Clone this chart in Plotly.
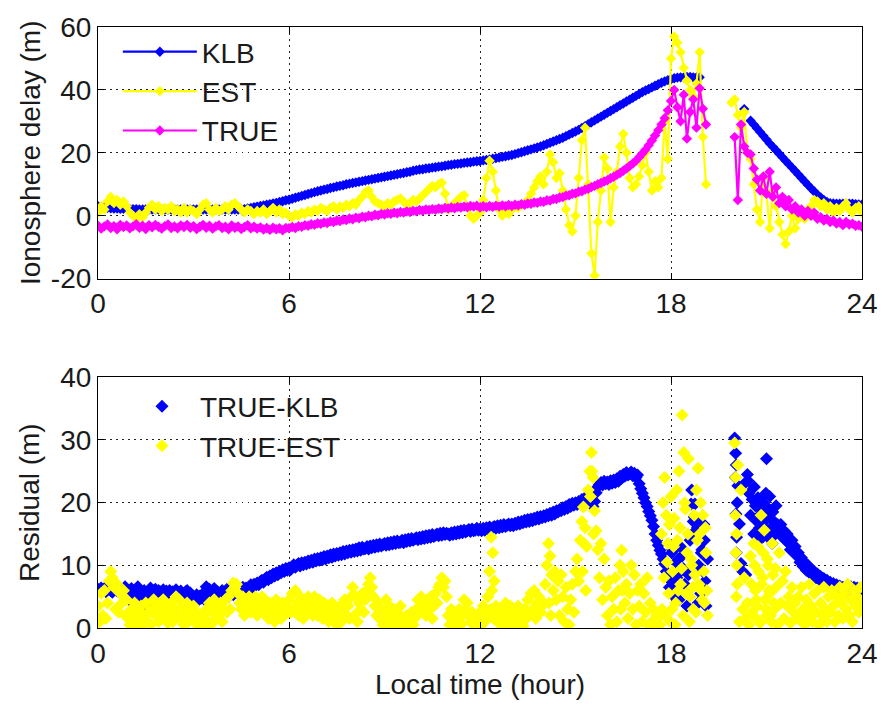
import numpy as np
import plotly.graph_objects as go

# ---------------------------------------------------------------- time axes
HOURS_TOP = np.round(np.arange(241) * 0.1, 2)    # 0.1 h sampling (0..24 h)
HOURS_RES = np.round(np.arange(481) * 0.05, 3)   # 0.05 h sampling (0..24 h)
N = None

# ---------------------------------------------------------------- ionosphere delay (m)
KLB = [
    3.0, 2.8, 2.6, 2.5, 2.4, 2.3, 2.3, 2.2, 2.2, 2.2,
    2.1, 2.1, 2.1, 2.0, 2.0, 2.0, 2.0, 2.0, 2.0, 2.0,
    2.0, 2.0, 2.0, 2.0, 2.0, 2.0, 2.0, 2.0, 2.0, 2.0,
    2.0, 2.0, 2.0, 2.0, 2.0, 2.0, 2.0, 2.0, 2.0, 2.0,
    2.0, 2.0, 2.0, 2.0, 2.0, 2.0, 2.1, 2.3, 2.5, 2.7,
    2.9, 3.1, 3.3, 3.5, 3.7, 3.9, 4.1, 4.4, 4.6, 4.9,
    5.1, 5.4, 5.7, 6.0, 6.3, 6.6, 6.9, 7.2, 7.5, 7.8,
    8.0, 8.3, 8.5, 8.8, 9.0, 9.3, 9.5, 9.7, 10.0, 10.2,
    10.4, 10.6, 10.8, 11.0, 11.2, 11.4, 11.6, 11.8, 12.0, 12.2,
    12.4, 12.6, 12.8, 13.0, 13.2, 13.4, 13.6, 13.8, 14.0, 14.3,
    14.5, 14.7, 14.8, 15.0, 15.1, 15.3, 15.4, 15.6, 15.7, 15.9,
    16.1, 16.2, 16.4, 16.5, 16.6, 16.8, 16.9, 17.0, 17.2, 17.3,
    17.4, 17.6, 17.7, 17.9, 18.1, 18.3, 18.5, 18.7, 18.9, 19.1,
    19.3, 19.6, 19.9, 20.2, 20.5, 20.8, 21.1, 21.4, 21.7, 22.0,
    22.4, 22.8, 23.2, 23.6, 24.0, 24.4, 24.8, 25.3, 25.8, 26.3,
    26.8, 27.3, 27.9, 28.5, 29.1, 29.7, 30.3, 30.9, 31.5, 32.1,
    32.7, 33.3, 33.9, 34.5, 35.1, 35.7, 36.3, 36.9, 37.5, 38.1,
    38.7, 39.3, 39.8, 40.3, 40.8, 41.3, 41.8, 42.3, 42.7, 43.1,
    43.4, 43.7, 43.9, 44.0, 44.0, 44.1, 44.1, 44.0, 44.0, 44.0,
    N, N, N, N, N, N, N, N, N, N,
    N, N, N, 33.9, N, 30.2, 29.0, 27.8, 26.6, 25.4,
    24.2, 23.0, 21.9, 20.8, 19.7, 18.6, 17.5, 16.4, 15.3, 14.2,
    13.1, 12.0, 10.9, 9.8, 8.7, 7.7, 6.7, 5.8, 5.0, 4.4,
    4.0, 3.9, 3.8, 3.8, 3.8, 3.8, 3.8, 3.8, 3.7, 3.6,
    3.5,
]

EST = [
    1.0, 3.0, 2.0, 4.5, 6.0, 4.0, 5.0, 3.5, 4.5, 3.0,
    1.0, 0.0, -1.0, 0.5, -0.5, 1.0, 2.5, 3.5, 2.0, 3.0,
    1.5, 2.5, 2.0, 3.0, 1.5, 2.0, 1.0, 2.5, 1.0, 2.0,
    1.5, 0.5, 2.0, 3.5, 4.0, 2.0, 1.0, 2.5, 1.5, 2.0,
    3.0, 2.0, 3.5, 4.0, 3.0, 2.0, 1.0, 2.0, 1.5, 0.5,
    1.5, 1.0, 2.0, 0.5, 1.5, 2.5, 1.0, 2.0, 0.5, 1.0,
    0.0, -0.5, 0.5, 0.0, 1.0, 0.5, 1.5, 1.0, 2.0, 1.5,
    2.5, 2.0, 1.5, 2.5, 3.0, 2.0, 3.0, 2.5, 3.5, 3.0,
    4.0, 3.5, 5.0, 6.0, 7.5, 8.0, 6.0, 4.5, 4.0, 3.5,
    3.0, 4.0, 3.5, 4.5, 5.0, 5.5, 4.5, 3.5, 4.0, 5.0,
    4.5, 5.5, 6.5, 7.5, 8.5, 9.5, 9.0, 10.0, 10.5, 7.0,
    2.0, 3.0, 4.0, 5.0, 6.0, 6.5, 3.0, 0.0, -1.0, 0.0,
    1.0, 5.0, 12.0, 17.5, 14.0, 8.0, 2.0, 0.0, 1.0, 0.5,
    2.0, 3.0, 2.5, 3.5, 4.0, 5.0, 7.0, 9.0, 11.0, 12.5,
    10.0, 14.0, 19.5, 17.0, 12.0, 13.5, 8.0, 2.0, -3.0, -5.0,
    0.0, 12.0, 24.0, 28.0, 10.0, -12.0, -19.0, -2.0, 8.0, 18.5,
    15.0, -2.0, 9.0, 14.0, 22.0, 26.0, 20.0, 12.0, 9.0, 10.0,
    12.5, 16.0, 20.0, 14.0, 8.0, 11.0, 9.0, 12.0, 30.0, 18.0,
    50.0, 57.0, 55.0, 52.0, 47.0, 43.0, 40.0, 38.0, 42.0, 52.0,
    25.0, 10.0, N, N, N, N, N, N, N, 36.0,
    37.0, 32.0, 28.0, 33.0, 20.0, 18.0, 10.0, 2.0, -2.0, 12.0,
    7.0, -4.0, 8.0, 3.0, -2.0, -6.0, -9.0, -5.0, 0.0, -4.0,
    -1.0, 1.0, -1.0, 2.0, 3.0, 5.0, 4.5, 3.0, 4.0, 2.0,
    3.0, 1.0, 2.5, 1.5, 3.0, 4.0, 2.0, 1.0, 2.5, 3.0,
    1.0,
]

TRUE = [
    -3.2, -4.1, -3.4, -2.8, -3.9, -3.3, -4.3, -2.9, -3.6, -3.1,
    -4.0, -3.4, -2.7, -3.8, -3.2, -4.2, -3.0, -3.7, -2.9, -3.5,
    -4.1, -3.3, -2.8, -3.9, -3.4, -4.0, -3.1, -3.6, -2.9, -3.8,
    -3.3, -4.2, -3.5, -2.9, -3.8, -3.2, -4.1, -3.4, -3.0, -3.9,
    -3.5, -4.3, -3.1, -3.8, -3.4, -4.2, -3.6, -3.0, -4.0, -3.5,
    -4.1, -3.7, -4.4, -3.9, -4.5, -3.8, -4.3, -4.0, -4.6, -3.9,
    -4.0, -3.6, -3.9, -3.3, -3.5, -3.0, -3.2, -2.7, -2.9, -2.4,
    -2.6, -2.1, -2.3, -1.8, -2.0, -1.5, -1.7, -1.2, -1.4, -0.9,
    -1.1, -0.6, -0.8, -0.3, -0.5, 0.0, -0.2, 0.3, 0.1, 0.6,
    0.4, 0.8, 0.6, 1.0, 0.8, 1.2, 1.0, 1.4, 1.2, 1.6,
    1.4, 1.8, 1.6, 2.0, 1.8, 2.1, 1.9, 2.3, 2.1, 2.5,
    2.3, 2.6, 2.4, 2.8, 2.6, 2.9, 2.7, 3.1, 2.9, 3.2,
    2.6, 3.0, 2.7, 3.1, 2.8, 3.2, 2.9, 3.3, 3.0, 3.4,
    3.1, 3.5, 3.3, 3.7, 3.5, 3.9, 3.8, 4.2, 4.1, 4.5,
    4.4, 4.9, 4.8, 5.3, 5.3, 5.8, 5.9, 6.4, 6.5, 7.0,
    7.1, 7.6, 7.8, 8.3, 8.6, 9.1, 9.5, 10.0, 10.4, 10.9,
    11.3, 11.9, 12.4, 13.0, 13.6, 14.3, 15.0, 15.8, 16.6, 17.5,
    18.6, 19.8, 21.0, 22.4, 23.9, 25.5, 27.2, 29.0, 31.0, 33.5,
    36.5, 40.0, 34.5, 30.0, 38.5, 24.5, 33.0, 37.0, 28.0, 40.5,
    34.0, 29.0, N, N, N, N, N, N, N, N,
    25.0, 5.0, 29.0, 22.0, 20.0, 19.5, 15.0, 11.5, 8.0, 12.5,
    7.0, 14.0, 6.0, 9.0, 4.0, 6.0, 3.0, 5.0, 2.0, 3.0,
    1.0, 2.0, 0.0, 1.5, 0.0, 1.0, -1.0, -0.5, -1.5, -1.0,
    -2.0, -1.5, -2.5, -2.0, -3.0, -2.0, -2.8, -2.5, -3.2, -3.0,
    -3.5,
]

# ---------------------------------------------------------------- residuals (m)
RES_KLB = [
    6.2, 5.9, 6.4, 6.0, 6.3, 5.8, 6.1, 6.5, 6.0, 5.7, 6.2, 6.4, 5.9, 6.1, 6.3, 5.8, 6.0, 6.6, 6.2, 5.4,
    4.8, 6.3, 3.9, 5.5, 4.2, 6.6, 3.6, 5.1, 4.4, 6.0, 3.8, 5.7, 4.6, 6.4, 5.0, 5.9, 6.2, 5.6, 6.0, 5.8,
    5.6, 6.1, 5.3, 5.9, 5.5, 6.0, 5.2, 5.8, 5.4, 6.1, 5.7, 5.1, 5.9, 5.5, 5.3, 5.8, 6.0, 5.4, 5.6, 5.2,
    5.0, 4.6, 5.3, 4.4, 5.1, 4.8, 5.5, 4.5, 6.6, 5.2, 6.2, 4.8, 5.6, 6.3, 5.0, 5.8, 4.7, 5.4, 6.0, 5.1,
    5.6, 6.2, 5.0, 5.9, 6.4, 5.3, 6.0, 5.7, 6.3, 5.9, 6.1, 6.5, 6.0, 6.4, 6.2, 6.6, 6.9, 6.5, 7.0, 6.8,
    7.2, 6.9, 7.4, 7.6, 7.3, 7.8, 8.1, 7.7, 8.3, 8.0, 8.6, 8.3, 8.8, 8.5, 9.0, 8.8, 9.3, 9.0, 9.5, 9.2,
    9.6, 9.3, 9.8, 10.1, 9.7, 10.0, 10.3, 9.9, 10.4, 10.1, 10.5, 10.2, 10.7, 10.4, 10.8, 10.5, 11.0, 10.7, 11.1, 10.8,
    11.2, 10.9, 11.4, 11.0, 11.5, 11.2, 11.7, 11.3, 11.8, 11.5, 11.9, 11.6, 12.0, 11.7, 12.2, 11.8, 12.3, 12.0, 12.4, 12.1,
    12.5, 12.2, 12.6, 12.3, 12.8, 12.4, 12.9, 12.6, 12.7, 13.0, 12.6, 13.1, 12.8, 13.2, 12.9, 13.3, 13.0, 13.4, 13.1, 13.3,
    13.5, 13.2, 13.6, 13.3, 13.7, 13.4, 13.8, 13.5, 13.9, 13.6, 13.7, 14.0, 13.6, 14.1, 13.8, 14.2, 13.9, 14.3, 14.0, 14.2,
    14.4, 14.1, 14.5, 14.2, 14.6, 14.3, 14.7, 14.4, 14.8, 14.5, 14.9, 14.6, 14.8, 15.0, 14.7, 15.1, 14.8, 15.2, 14.9, 15.1,
    15.0, 14.8, 15.2, 14.9, 15.3, 15.0, 15.4, 15.1, 15.5, 15.2, 15.6, 15.3, 15.5, 15.7, 15.4, 15.8, 15.5, 15.6, 15.9, 15.6,
    15.8, 15.5, 15.9, 15.6, 16.0, 15.7, 16.1, 15.8, 16.0, 16.2, 15.9, 16.3, 16.0, 16.4, 16.1, 16.5, 16.2, 16.4, 16.6, 16.3,
    16.6, 16.3, 16.7, 16.5, 16.9, 16.6, 17.0, 16.8, 17.2, 16.9, 17.3, 17.0, 17.4, 17.1, 17.5, 17.3, 17.7, 17.4, 17.8, 17.6,
    17.9, 17.7, 18.1, 17.9, 18.3, 18.0, 18.5, 18.2, 18.7, 18.5, 18.9, 18.7, 19.2, 18.9, 19.4, 19.1, 19.7, 19.4, 19.9, 19.6,
    20.0, 19.7, 20.2, 20.0, 20.5, 20.2, 20.8, 20.4, 21.0, 20.6, 19.8, 19.4, 20.2, 21.6, 22.5, 22.9, 23.2, 22.8, 23.4, 23.0,
    23.3, 22.9, 23.5, 23.1, 23.6, 23.2, 23.8, 23.4, 24.2, 23.9, 24.5, 24.2, 24.8, 24.4, 24.6, 24.9, 24.3, 24.7, 24.0, 24.4,
    23.0, 22.2, 21.5, 20.8, 20.0, 19.4, 18.6, 17.9, 17.2, 16.2, 15.0, 14.0, 13.2, 12.4, 11.8, 11.0, 10.2, 9.0, 8.0, 6.5,
    7.5, 12.5, 5.0, 10.5, 13.0, 4.5, 9.0, 11.5, 6.0, 12.0, 3.5, 8.5, 14.0, 22.0, 17.0, 19.8, 15.5, 4.0, 16.5, 12.0,
    9.0, 14.0, 3.5, 11.0, N, N, N, N, N, N, N, N, N, N, N, N, N, N, N, N,
    30.3, 26.0, 22.7, 16.6, 10.3, 9.0, 23.0, 8.5, 24.5, 21.5, 18.0, 20.5, 15.0, 19.5, 17.0, 14.0, 19.0, 16.0, 20.0, 15.5,
    18.5, 14.5, 21.0, 16.0, 18.5, 15.0, 19.5, 16.5, 15.5, 16.5, 14.5, 15.5, 14.0, 15.0, 13.5, 12.5, 14.0, 12.5, 13.0, 11.5,
    12.0, 10.5, 11.2, 9.8, 10.5, 9.2, 10.0, 8.8, 9.4, 8.5, 9.0, 8.0, 8.6, 7.7, 8.2, 7.5, 7.9, 7.2, 7.6, 7.0,
    7.3, 6.8, 7.1, 6.5, 6.9, 6.3, 6.7, 6.2, 6.5, 6.0, 6.4, 5.9, 6.3, 6.6, 6.1, 6.5, 6.0, 6.4, 5.8, 6.2,
    6.0,
]

RES_EST = [
    3.5, 1.0, 5.5, 2.0, 6.0, 1.5, 4.0, 7.5, 9.0, 8.0, 6.5, 3.0, 7.0, 2.5, 5.5, 4.0, 6.0, 2.0, 4.5, 1.5,
    0.5, 3.0, 1.5, 4.0, 0.2, 2.5, 1.0, 3.5, 0.3, 2.0, 4.0, 1.0, 2.5, 0.5, 3.0, 4.5, 2.0, 3.5, 1.0, 4.0,
    2.5, 4.5, 1.5, 3.5, 0.8, 2.0, 4.0, 1.0, 3.0, 5.0, 2.0, 4.5, 1.5, 3.5, 0.5, 2.5, 4.0, 1.0, 3.0, 2.0,
    3.5, 1.0, 2.5, 0.3, 1.5, 0.5, 2.0, 0.2, 3.0, 1.0, 4.0, 0.5, 2.5, 4.5, 1.5, 3.5, 2.0, 4.0, 1.0, 3.0,
    4.5, 2.5, 5.0, 3.0, 6.0, 7.2, 6.5, 7.0, 5.5, 4.0, 3.0, 5.0, 2.0, 4.5, 3.5, 5.0, 2.5, 4.0, 3.0, 5.0,
    2.0, 4.0, 3.5, 5.0, 2.5, 4.5, 3.0, 1.5, 4.0, 2.0, 3.5, 1.0, 4.5, 2.5, 3.0, 1.5, 4.0, 2.0, 3.5, 2.5,
    4.5, 2.5, 5.5, 3.0, 6.0, 4.0, 2.0, 5.0, 3.5, 1.5, 4.5, 2.5, 5.0, 3.0, 4.0, 2.0, 5.0, 3.5, 2.0, 4.5,
    3.0, 1.5, 4.0, 2.0, 3.5, 1.0, 2.5, 4.0, 1.5, 3.0, 0.5, 2.0, 3.5, 1.0, 2.5, 4.5, 2.0, 3.5, 1.5, 5.0,
    6.5, 2.0, 5.0, 1.0, 4.0, 3.0, 5.5, 2.5, 4.5, 6.0, 7.0, 8.0, 6.5, 5.0, 3.5, 2.0, 4.0, 1.5, 3.0, 0.5,
    2.5, 4.5, 1.0, 3.5, 0.5, 2.0, 3.0, 0.8, 2.5, 1.5, 3.5, 0.3, 1.5, 0.5, 2.0, 0.2, 1.0, 2.5, 0.5, 1.5,
    3.0, 4.5, 2.5, 5.0, 3.5, 4.0, 2.0, 4.5, 3.0, 5.0, 1.5, 3.5, 5.5, 4.0, 6.5, 7.0, 8.0, 6.5, 7.5, 5.0,
    2.0, 0.5, 3.0, 1.0, 2.5, 0.3, 1.5, 3.0, 0.5, 2.0, 4.5, 3.0, 4.0, 2.0, 1.0, 2.5, 0.5, 1.5, 1.0, 0.3,
    2.5, 0.5, 3.5, 1.0, 2.0, 5.0, 9.0, 14.5, 12.0, 7.5, 3.5, 1.0, 2.5, 0.5, 3.0, 1.5, 4.0, 0.3, 2.0, 3.5,
    1.0, 3.0, 0.5, 2.0, 3.5, 1.0, 2.5, 0.3, 3.0, 1.5, 4.5, 2.0, 5.5, 3.0, 6.0, 1.5, 4.0, 5.0, 2.5, 3.5,
    4.0, 7.0, 10.0, 13.5, 11.5, 8.5, 6.0, 9.0, 4.5, 7.5, 2.0, 8.5, 5.0, 1.0, 6.5, 3.0, 0.5, 4.5, 7.0, 2.5,
    9.0, 11.0, 7.5, 14.0, 17.0, 19.3, 16.0, 13.0, 22.0, 25.0, 28.0, 24.0, 18.7, 15.5, 12.5, 8.0, 13.5, 4.5, 11.0, 6.5,
    2.0, 7.5, 0.5, 5.0, 3.0, 8.0, 1.0, 6.0, 10.0, 12.4, 9.0, 4.0, 7.0, 1.5, 5.5, 10.0, 3.0, 8.5, 0.5, 6.0,
    3.5, 7.0, 1.0, 5.5, 2.5, 8.0, 0.5, 4.0, 1.0, 3.0, 0.3, 2.0, 1.5, 0.5, 15.0, 20.0, 24.0, 18.0, 13.5, 16.5,
    21.0, 9.0, 17.5, 4.0, 14.0, 25.0, 7.0, 34.0, 28.0, 19.0, 12.0, 27.0, 5.0, 10.0, 3.0, 8.5, 22.0, 25.5, 15.0, 6.0,
    18.0, 4.0, 12.0, 2.0, N, N, N, N, N, N, N, N, N, N, N, N, N, N, N, N,
    29.5, 5.0, 26.0, 1.0, 22.0, 3.0, 8.0, 1.5, 4.0, 0.5, 11.5, 2.5, 13.5, 6.0, 3.5, 9.0, 0.8, 7.0, 12.0, 4.5,
    2.0, 10.0, 5.5, 1.0, 8.5, 3.0, 6.5, 0.5, 12.0, 4.0, 7.5, 1.5, 9.0, 3.5, 5.0, 0.8, 6.5, 2.5, 4.0, 1.5,
    5.0, 1.5, 6.5, 3.0, 0.5, 4.5, 2.0, 7.0, 3.5, 1.0, 5.5, 2.5, 6.0, 0.5, 4.0, 2.0, 6.5, 3.0, 1.0, 5.0,
    2.5, 6.0, 3.5, 1.0, 5.0, 2.0, 6.5, 4.0, 1.5, 5.5, 3.0, 7.0, 2.0, 4.5, 1.0, 6.0, 3.5, 5.0, 2.5, 6.5,
    4.0,
]

# additional samples inside the scattered bursts (hour, residual)
RES_KLB_BURST = [
    (18.02, 12.0), (18.08, 6.5), (18.13, 13.5), (18.18, 8.0), (18.23, 11.0), (18.28, 6.8),
    (18.33, 12.8), (18.38, 9.5), (18.43, 7.0), (18.63, 19.8), (18.67, 15.0), (18.73, 17.7),
    (18.77, 14.5), (18.83, 16.0), (18.87, 10.0), (18.93, 5.5), (18.97, 12.5), (19.03, 16.5),
    (19.07, 7.5), (20.02, 24.0), (20.04, 18.2), (20.06, 14.5), (20.08, 20.0), (20.03, 27.9),
    (20.05, 12.0), (20.62, 22.5), (20.68, 17.5), (20.73, 20.8), (20.78, 16.0), (20.83, 18.0),
    (20.88, 14.5), (20.93, 17.0), (20.98, 21.5), (21.03, 15.5), (21.08, 19.0), (21.13, 17.5),
    (21.18, 13.5), (21.23, 17.0), (21.28, 15.0), (21.33, 16.0), (21.00, 27.0), (20.42, 23.5),
]

RES_EST_BURST = [
    (12.33, 3.0), (12.37, 6.0), (12.42, 1.5), (14.17, 4.0), (14.22, 2.0), (15.22, 9.0),
    (15.27, 13.5), (15.32, 6.0), (15.47, 21.0), (15.52, 25.0), (15.57, 15.0), (16.42, 3.0),
    (16.47, 6.0), (17.72, 3.0), (17.78, 8.0), (17.82, 2.0), (17.88, 10.5), (17.93, 5.5),
    (17.98, 1.0), (18.03, 3.0), (18.08, 13.0), (18.13, 0.5), (18.18, 22.0), (18.23, 6.0),
    (18.28, 16.0), (18.33, 9.5), (18.38, 2.0), (18.43, 20.0), (18.48, 5.5), (18.53, 15.0),
    (18.58, 1.0), (18.63, 11.0), (18.68, 6.5), (18.73, 18.0), (18.78, 2.5), (18.83, 14.0),
    (18.88, 7.0), (18.93, 20.0), (18.98, 4.5), (19.03, 9.0), (19.08, 16.0), (19.13, 6.0),
    (20.02, 18.0), (20.04, 12.0), (20.06, 15.0), (20.08, 7.0), (20.03, 24.0), (20.07, 10.0),
    (20.53, 7.0), (20.58, 2.0), (20.63, 10.0), (20.68, 4.5), (20.73, 13.0), (20.78, 1.0),
    (20.83, 18.0), (20.88, 8.0), (20.93, 15.6), (20.98, 3.0), (21.03, 11.0), (21.08, 6.0),
    (21.13, 2.0), (21.18, 13.5), (21.23, 4.0), (21.28, 9.5),
]

X_TICKS = [0, 6, 12, 18, 24]
TOP_TICKS = [-20, 0, 20, 40, 60]
RES_TICKS = [0, 10, 20, 30, 40]

assert len(KLB) == len(EST) == len(TRUE) == len(HOURS_TOP)
assert len(RES_KLB) == len(RES_EST) == len(HOURS_RES)

BLUE, YELLOW, MAGENTA = "#0000ff", "#ffff00", "#ff00ff"
FONT = "Liberation Sans, Arial, Helvetica, sans-serif"
FS = 28

fig = go.Figure()


def series_line(y, name, color, group):
    return go.Scatter(
        x=HOURS_TOP, y=y, name=name, mode="lines+markers",
        line=dict(color=color, width=2.2),
        marker=dict(symbol="diamond", size=8, color=color, line=dict(width=0)),
        connectgaps=False, legend="legend", legendgroup=group,
        xaxis="x", yaxis="y",
    )


fig.add_trace(series_line(KLB, "KLB", BLUE, "a"))
fig.add_trace(series_line(EST, "EST", YELLOW, "b"))
fig.add_trace(series_line(TRUE, "TRUE", MAGENTA, "c"))


def residual(x, y, name, color, group, show):
    return go.Scatter(
        x=x, y=y, name=name, mode="markers", showlegend=show,
        marker=dict(symbol="diamond", size=10, color=color, line=dict(width=0)),
        legend="legend2", legendgroup=group, xaxis="x2", yaxis="y2",
    )


fig.add_trace(residual(HOURS_RES, RES_KLB, "TRUE-KLB", BLUE, "d", True))
fig.add_trace(residual([p[0] for p in RES_KLB_BURST], [p[1] for p in RES_KLB_BURST],
                       "TRUE-KLB", BLUE, "d", False))
fig.add_trace(residual(HOURS_RES, RES_EST, "TRUE-EST", YELLOW, "e", True))
fig.add_trace(residual([p[0] for p in RES_EST_BURST], [p[1] for p in RES_EST_BURST],
                       "TRUE-EST", YELLOW, "e", False))

axis_style = dict(
    showline=True, linecolor="black", linewidth=1.2, mirror="allticks",
    ticks="inside", ticklen=6, tickwidth=1, tickcolor="black",
    showgrid=True, gridcolor="#222222", gridwidth=1, griddash="1.5px,4.5px",
    zeroline=False, tickfont=dict(family=FONT, size=FS, color="#1a1a1a"),
)

fig.update_layout(
    width=890, height=704,
    margin=dict(l=98, r=18, t=20, b=75),
    paper_bgcolor="white", plot_bgcolor="white",
    font=dict(family=FONT, size=FS, color="#1a1a1a"),
    xaxis=dict(domain=[0, 1], anchor="y", range=[0, 24], tickvals=X_TICKS, **axis_style),
    yaxis=dict(domain=[0.5813, 1], anchor="x", range=[-20, 60], tickvals=TOP_TICKS,
               ticktext=[str(v) for v in TOP_TICKS],
               title=dict(text="Ionosphere delay (m)", font=dict(size=FS), standoff=2),
               **axis_style),
    xaxis2=dict(domain=[0, 1], anchor="y2", range=[0, 24], tickvals=X_TICKS,
                title=dict(text="Local time (hour)", font=dict(size=FS), standoff=4),
                **axis_style),
    yaxis2=dict(domain=[0, 0.4171], anchor="x2", range=[0, 40], tickvals=RES_TICKS,
                title=dict(text="Residual (m)", font=dict(size=FS), standoff=12),
                **axis_style),
    legend=dict(x=0.026, y=1.0, xanchor="left", yanchor="top", bgcolor="rgba(0,0,0,0)",
                font=dict(size=FS), itemwidth=74, tracegroupgap=0),
    legend2=dict(x=0.034, y=0.41, xanchor="left", yanchor="top", bgcolor="rgba(0,0,0,0)",
                 font=dict(size=FS), itemwidth=66, tracegroupgap=0),
    showlegend=True,
)

fig.write_html("out.html")
